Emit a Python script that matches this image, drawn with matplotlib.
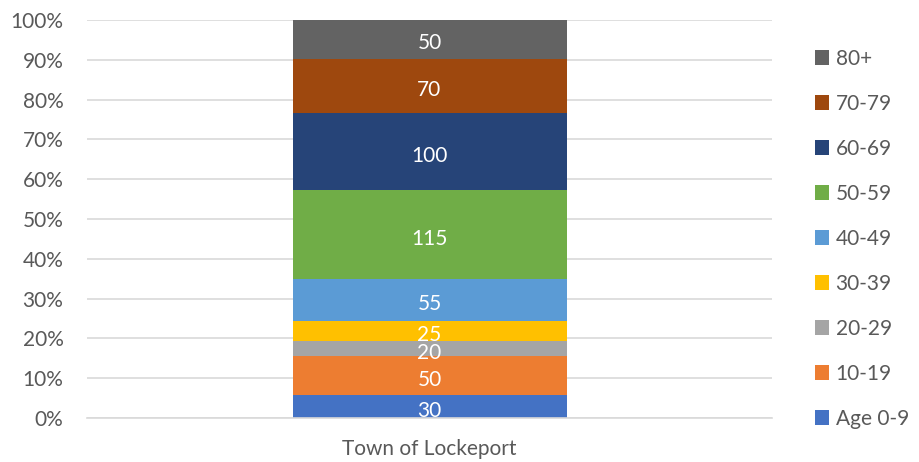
import matplotlib.pyplot as plt
import numpy as np

plt.rcParams['font.family'] = ['Lato', 'DejaVu Sans']

category = 'Town of Lockeport'
age_groups = ['Age 0-9', '10-19', '20-29', '30-39', '40-49',
              '50-59', '60-69', '70-79', '80+']
counts = [30, 50, 20, 25, 55, 115, 100, 70, 50]
colors = ['#4472C4', '#ED7D31', '#A5A5A5', '#FFC000', '#5B9BD5',
          '#70AD47', '#264478', '#9E480E', '#636363']
y_ticks = [0, 10, 20, 30, 40, 50, 60, 70, 80, 90, 100]

text_color = '#595959'

fig = plt.figure(figsize=(9.2, 4.62), dpi=100)
ax = fig.add_axes([87 / 920, 1 - 418 / 462, (772 - 87) / 920, (418 - 20) / 462])

shares = np.array(counts) / sum(counts) * 100
bottom = 0.0
for label, cnt, share, col in zip(age_groups, counts, shares, colors):
    bars = ax.bar([category], [share], bottom=bottom, width=0.4, color=col, label=label, zorder=2)
    ax.bar_label(bars, labels=[str(cnt)], label_type='center', color='white',
                 fontsize=15, padding=-3)
    bottom += share

ax.set_xlim(-0.5, 0.5)
ax.set_ylim(0, 100)
ax.set_yticks(y_ticks)
ax.set_yticklabels([f'{t}%' for t in y_ticks])
ax.yaxis.grid(True, color='#D9D9D9', linewidth=1.2, zorder=0)
ax.set_axisbelow(True)
for s in ['top', 'right', 'left']:
    ax.spines[s].set_visible(False)
ax.spines['bottom'].set_color('#D9D9D9')
ax.spines['bottom'].set_linewidth(1.2)
ax.tick_params(axis='both', length=0, labelsize=15, colors=text_color)
ax.tick_params(axis='y', pad=17)
ax.tick_params(axis='x', pad=15)

handles, labels = ax.get_legend_handles_labels()
leg = fig.legend(handles[::-1], labels[::-1], loc='upper left', bbox_to_anchor=(796 / 920, 1 - 30 / 462),
                 frameon=False, fontsize=15, handlelength=0.7, handleheight=0.7,
                 handletextpad=0.3, labelspacing=1.2, labelcolor=text_color)

plt.savefig('out.png', dpi=100)
